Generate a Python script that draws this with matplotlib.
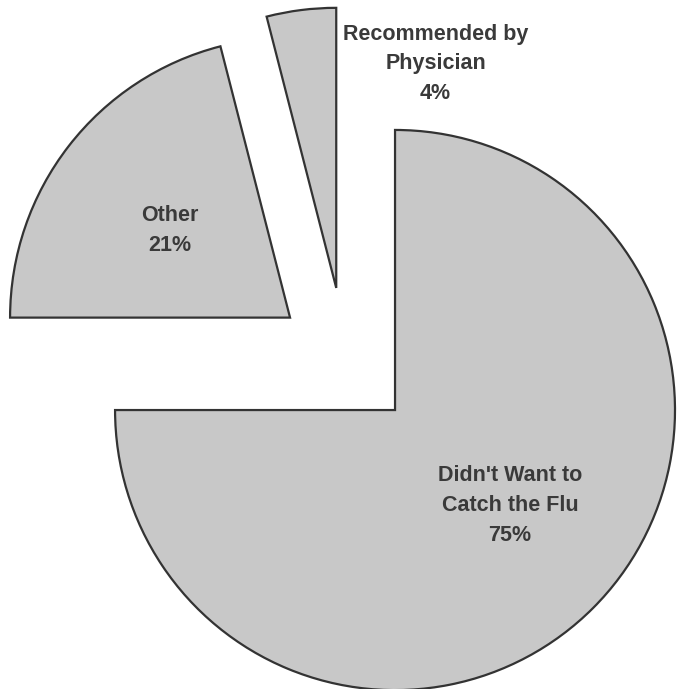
import matplotlib.pyplot as plt

labels = ["Didn't Want to\nCatch the Flu", "Other", "Recommended by\nPhysician"]
shares = [75, 21, 4]

# where each wedge's tip sits (pulled-out pieces), in pie-radius units
centers = [(0.0, 0.0), (-0.375, 0.33), (-0.21, 0.436)]
# label anchor relative to each wedge tip
label_pos = [(0.41, -0.34), (-0.43, 0.31), (0.355, 0.80)]

fig = plt.figure(figsize=(6.82, 6.89), dpi=100)
ax = fig.add_axes([0, 0, 1, 1])

wedges, _ = ax.pie(shares, startangle=90, counterclock=False,
                   colors=['#c8c8c8'] * 3,
                   wedgeprops=dict(edgecolor='#333333', linewidth=1.6))

for w, c, lp, lab, v in zip(wedges, centers, label_pos, labels, shares):
    w.set_center(c)
    ax.text(c[0] + lp[0], c[1] + lp[1], f"{lab}\n{v}%",
            ha='center', va='center', fontsize=15.5, fontweight='bold',
            color='#3a3a3a', family='Liberation Sans', linespacing=1.55)

ax.set_xlim(-1.411, 1.025)
ax.set_ylim(-0.996, 1.464)
ax.set_aspect('auto')
ax.axis('off')

fig.savefig('out.png', dpi=100, facecolor='white')
